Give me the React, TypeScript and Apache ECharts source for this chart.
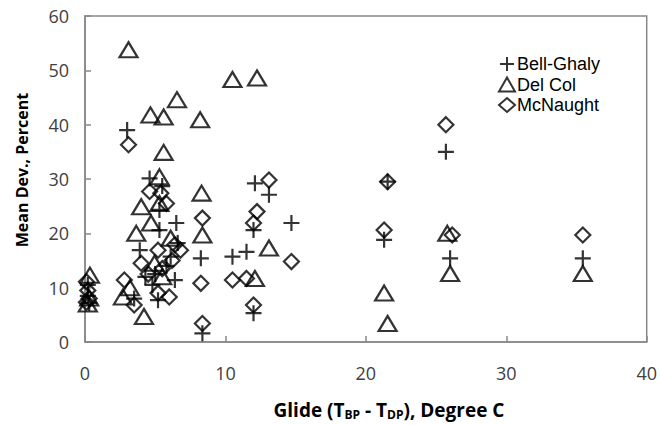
import React, { useEffect, useRef } from "react";
import * as echarts from "echarts";

const bellGhaly: number[][] = [
  [0.2, 10.5], [0.2, 8.5], [0.3, 7.2], [3.0, 39], [3.5, 8.0], [3.9, 16.9], [4.3, 12], [4.6, 30.1],
  [5.5, 28.7], [5.3, 24.3], [5.3, 20.6], [5.2, 7.7], [5.0, 12.5], [6.1, 15.7], [6.4, 11.4],
  [6.5, 21.9], [5.8, 14], [4.8, 10.5], [8.36, 1.6], [8.25, 15.4], [10.5, 15.7], [11.5, 16.6],
  [12.0, 20.6], [12.0, 5.3], [12.1, 29.2], [13.1, 27.1], [14.7, 21.9], [21.3, 18.8],
  [21.55, 29.5], [25.7, 35.0], [26.0, 15.4], [35.45, 15.4], [6.6, 18.2],
];

const delCol: number[][] = [
  [0.35, 12.3], [0.3, 8.1], [0.2, 7.0], [2.7, 8.3], [3.1, 53.8], [3.65, 20.0], [4.0, 24.9],
  [4.2, 4.7], [4.66, 41.8], [4.95, 14.5], [5.3, 30.4], [5.3, 25.5], [5.6, 41.4], [5.6, 34.9],
  [4.7, 21.9], [6.1, 19.1], [6.55, 44.6], [8.2, 40.9], [8.3, 27.4], [8.36, 19.7], [10.5, 48.3],
  [12.25, 48.6], [12.1, 11.7], [13.1, 17.3], [21.3, 9.0], [21.55, 3.4], [25.8, 20.0],
  [26.0, 12.6], [35.45, 12.6], [3.2, 10], [5.5, 12],
];

const mcNaught: number[][] = [
  [0.1, 11.1], [0.2, 9.5], [0.3, 8.0], [0.1, 7.3], [2.8, 11.4], [3.1, 36.3], [3.5, 6.8],
  [4.0, 14.5], [4.6, 27.7], [5.4, 27.4], [5.8, 25.5], [5.2, 16.9], [6.4, 17.9], [6.8, 16.9],
  [5.2, 9.0], [6.0, 8.3], [4.5, 12.5], [5.5, 13.5], [8.36, 22.8], [8.25, 10.8], [8.36, 3.4],
  [10.5, 11.4], [11.5, 11.7], [12.0, 21.9], [12.25, 24.0], [12.0, 6.8], [13.1, 29.8],
  [14.7, 14.8], [21.3, 20.6], [21.55, 29.5], [25.7, 40], [26.15, 19.7], [35.45, 19.7],
  [6.2, 15.0],
];

const seriesNames = ["Bell-Ghaly", "Del Col", "McNaught"];

export default function App() {
  const ref = useRef<HTMLDivElement>(null);
  useEffect(() => {
    if (!ref.current) return;
    const chart = echarts.init(ref.current, undefined, { renderer: "svg" });
    const font = "'Open Sans', 'Liberation Sans', sans-serif";
    const legendFont = "'Liberation Sans', Arial, sans-serif";
    const hollow = { color: "rgba(0,0,0,0)", borderColor: "#000", borderWidth: 2.2 };
    const axisCommon = {
      axisLine: { show: true, lineStyle: { color: "#888", width: 1.5 } },
      axisTick: { show: true, inside: true, length: 6, lineStyle: { color: "#888", width: 1.5 } },
      splitLine: { show: false },
      axisLabel: { fontFamily: font, fontSize: 18, color: "#404040" },
    };
    chart.setOption({
      animation: false,
      backgroundColor: "#fff",
      grid: {
        left: 85, top: 16, right: 9, bottom: 83,
        show: true, borderColor: "#888", borderWidth: 1.5,
      },
      xAxis: {
        type: "value", min: 0, max: 40, interval: 10, ...axisCommon,
        axisLabel: { ...axisCommon.axisLabel, margin: 22 },
      },
      yAxis: {
        type: "value", min: 0, max: 60, interval: 10, ...axisCommon,
        axisLabel: { ...axisCommon.axisLabel, margin: 16 },
      },
      legend: {
        orient: "vertical", left: 493, top: 50, itemWidth: 16, itemHeight: 14, itemGap: 2.5,
        textStyle: { fontFamily: legendFont, fontSize: 18, lineHeight: 18, color: "#000", padding: [0, 0, 0, -3] },
        data: seriesNames,
      },
      graphic: [
        {
          type: "text", x: 22, y: 170, rotation: Math.PI / 2,
          style: {
            text: "Mean Dev., Percent", fontFamily: font, fontSize: 16, fontWeight: "bold",
            fill: "#000", align: "center", verticalAlign: "middle",
          },
        },
        {
          type: "text", x: 389, y: 410,
          style: {
            text: "Glide (T{s|BP} - T{s|DP}), Degree C",
            fontFamily: font, fontSize: 19, fontWeight: "bold", fill: "#000",
            align: "center", verticalAlign: "middle",
            rich: { s: { fontSize: 12, fontWeight: "bold", fontFamily: font, padding: [9, 0, 0, 0] } },
          },
        },
      ],
      series: [
        {
          name: seriesNames[0], type: "scatter", data: bellGhaly,
          symbol: "path://M8,0 L8,16 M0,8 L16,8", symbolSize: 16,
          itemStyle: hollow,
        },
        {
          name: seriesNames[1], type: "scatter", data: delCol,
          symbol: "triangle", symbolSize: [18, 15],
          itemStyle: hollow,
        },
        {
          name: seriesNames[2], type: "scatter", data: mcNaught,
          symbol: "diamond", symbolSize: [15, 15],
          itemStyle: hollow,
        },
      ],
    });
    return () => chart.dispose();
  }, []);
  return <div ref={ref} style={{ width: 660, height: 425, position: "absolute", left: 0, top: 0 }} />;
}
